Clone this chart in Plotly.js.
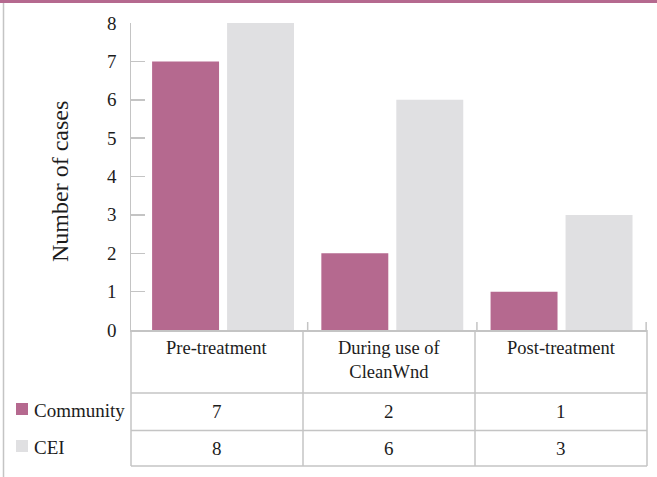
<!DOCTYPE html>
<html>
<head>
<meta charset="utf-8">
<script src="https://cdn.plot.ly/plotly-3.0.1.min.js"></script>
<style>
  html, body { margin: 0; padding: 0; background: #ffffff; }
  #chart { width: 657px; height: 477px; }
</style>
</head>
<body>
<div id="chart"></div>
<script>
// Cases per treatment phase, by group
var categories = ['Pre-treatment', 'During use of<br>CleanWnd', 'Post-treatment'];
var seriesNames = ['Community', 'CEI'];
var community = [7, 2, 1];
var cei = [8, 6, 3];
var yTicks = [0, 1, 2, 3, 4, 5, 6, 7, 8];

var W = 657, H = 477;
var M = { l: 131, r: 10, t: 23, b: 147 };
var PW = W - M.l - M.r, PH = H - M.t - M.b;
// pixel -> paper helpers for the frame and the data table drawn under the plot
function px(x) { return (x - M.l) / PW; }
function py(y) { return (H - M.b - y) / PH; }

var FONT = '"Liberation Serif", "Times New Roman", serif';
var TEXT = '#1c1c1c';
var GRID = '#c4c4c4';
var colors = ['#b5698f', '#e0e0e2'];
var seriesValues = [community, cei];
var xRange = [-0.544, 2.505];

var traces = seriesValues.map(function (vals, i) {
  return {
    type: 'bar',
    name: seriesNames[i],
    x: categories,
    y: vals,
    marker: { color: colors[i], line: { width: 0 } },
    hoverinfo: 'skip',
    showlegend: false
  };
});

var shapes = [];
var annotations = [];

// purple rule along the top edge and light frame line on the left
shapes.push({ type: 'rect', xref: 'paper', yref: 'paper', x0: px(0), x1: px(W), y0: py(3), y1: py(0),
  fillcolor: colors[0], line: { width: 0 }, layer: 'above' });
shapes.push({ type: 'line', xref: 'paper', yref: 'paper', x0: px(3.5), x1: px(3.5), y0: py(3), y1: py(H),
  line: { color: GRID, width: 1.5 } });

// short marks at the category boundaries on the baseline
for (var b = 0; b < categories.length; b++) {
  shapes.push({ type: 'line', xref: 'x', yref: 'paper', x0: b + 0.5, x1: b + 0.5, y0: 0, y1: 8 / PH,
    line: { color: GRID, width: 1.5 } });
}

// y tick labels, placed on the y scale
yTicks.forEach(function (t) {
  annotations.push({ xref: 'paper', yref: 'y', x: px(119), y: t, xanchor: 'right', yanchor: 'middle',
    text: String(t), showarrow: false, font: { family: FONT, size: 19, color: TEXT } });
});

// data table: row and column rules
var rowYs = [393, 430.5, 466];
rowYs.forEach(function (y) {
  shapes.push({ type: 'line', xref: 'paper', yref: 'paper', x0: 0, x1: 1, y0: py(y), y1: py(y),
    line: { color: GRID, width: 1.5 } });
});
for (var c = 0; c <= categories.length; c++) {
  var xc = c / categories.length;
  shapes.push({ type: 'line', xref: 'paper', yref: 'paper', x0: xc, x1: xc, y0: py(330), y1: py(466),
    line: { color: GRID, width: 1.5 } });
}

// header row: category names
categories.forEach(function (cat, i) {
  annotations.push({ xref: 'paper', yref: 'paper', x: (i + 0.5) / categories.length, y: py(336),
    xanchor: 'center', yanchor: 'top', text: cat, showarrow: false,
    font: { family: FONT, size: 18.5, color: TEXT } });
});

// value rows with their series keys
var rowCenters = [411.5, 448.5];
seriesValues.forEach(function (vals, r) {
  vals.forEach(function (v, i) {
    annotations.push({ xref: 'paper', yref: 'paper', x: (i + 0.5) / categories.length, y: py(rowCenters[r]),
      xanchor: 'center', yanchor: 'middle', text: String(v), showarrow: false,
      font: { family: FONT, size: 19, color: TEXT } });
  });
  shapes.push({ type: 'rect', xref: 'paper', yref: 'paper', x0: px(16), x1: px(28),
    y0: py(rowCenters[r] + 3.5), y1: py(rowCenters[r] - 8.5),
    fillcolor: colors[r], line: { width: 0 } });
  annotations.push({ xref: 'paper', yref: 'paper', x: px(32), y: py(rowCenters[r] - 1.5),
    xanchor: 'left', yanchor: 'middle', text: seriesNames[r], showarrow: false,
    font: { family: FONT, size: 19, color: TEXT } });
});

// y axis title
annotations.push({ xref: 'paper', yref: 'paper', x: px(60), y: py(182), textangle: -90,
  xanchor: 'center', yanchor: 'middle', text: 'Number of cases', showarrow: false,
  font: { family: FONT, size: 24, color: TEXT } });

var layout = {
  width: W, height: H,
  margin: M,
  paper_bgcolor: '#ffffff', plot_bgcolor: '#ffffff',
  font: { family: FONT, size: 19, color: TEXT },
  barmode: 'group',
  bargap: 0.114,
  bargroupgap: 0.107,
  xaxis: {
    type: 'category', range: xRange, showline: true, linecolor: GRID, linewidth: 1.5,
    ticks: '', showticklabels: false, showgrid: false, zeroline: false, fixedrange: true
  },
  yaxis: {
    range: [0, 8], tickmode: 'array', tickvals: yTicks,
    showline: true, linecolor: GRID, linewidth: 1.5,
    ticks: 'inside', ticklen: 14, tickcolor: GRID, tickwidth: 1.5,
    showticklabels: false,
    showgrid: false, zeroline: false, fixedrange: true
  },
  shapes: shapes,
  annotations: annotations
};

Plotly.newPlot('chart', traces, layout, { displayModeBar: false, staticPlot: true });
</script>
</body>
</html>
